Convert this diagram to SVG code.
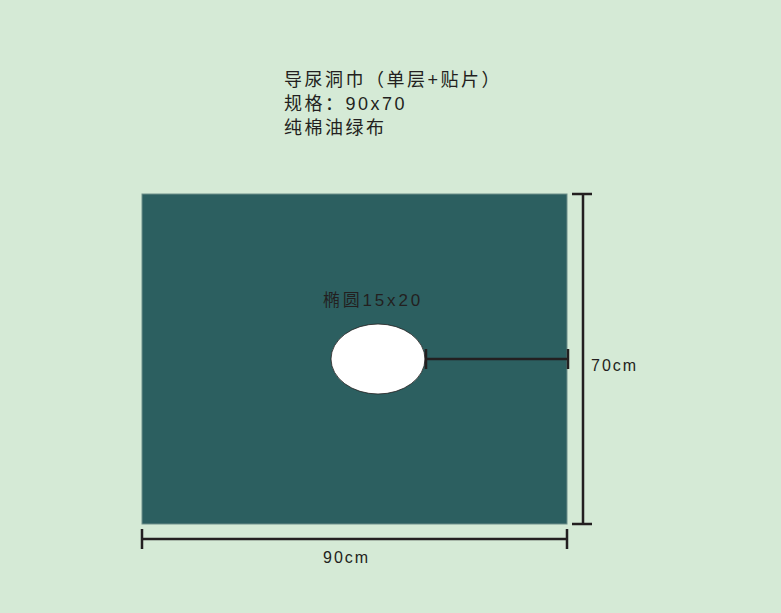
<svg xmlns="http://www.w3.org/2000/svg" width="781" height="613" viewBox="0 0 781 613">
<style>
.t{font-family:"Liberation Sans","Noto Sans CJK SC",sans-serif;fill:#231f20;font-size:16px;letter-spacing:1px}
.h{font-size:18px;letter-spacing:2.5px}
.d{stroke:#231f20;stroke-width:2.5;fill:none}
</style>
<rect width="781" height="613" fill="#d5ead6"/>
<g id="title">
<text class="t h" x="284" y="86">导尿洞巾（单层+贴片）</text>
<text class="t h" x="284" y="110">规格：90x70</text>
<text class="t h" x="284" y="134">纯棉油绿布</text>
</g>
<g id="sheet">
<rect x="142" y="194" width="425" height="330" fill="#2c5f60" stroke="#6f8f8a" stroke-width="1"/>
</g>
<g id="hole">
<ellipse cx="378" cy="359" rx="47" ry="35" fill="#fff" stroke="#231f20" stroke-width="0.8"/>
<text class="t" x="323" y="306" style="font-size:17px;letter-spacing:2.8px">椭圆15x20</text>
</g>
<g id="connectors">
<path class="d" d="M426 359H568M426 349V369M568 349V369"/>
<path class="d" d="M583 194V524M572 194H592M572 524H592"/>
<path class="d" d="M142 539H567M142 529V549M567 529V549"/>
</g>
<g id="labels">
<text class="t" x="591" y="371" style="letter-spacing:2px">70cm</text>
<text class="t" x="323" y="563" style="letter-spacing:2px">90cm</text>
</g>
</svg>
